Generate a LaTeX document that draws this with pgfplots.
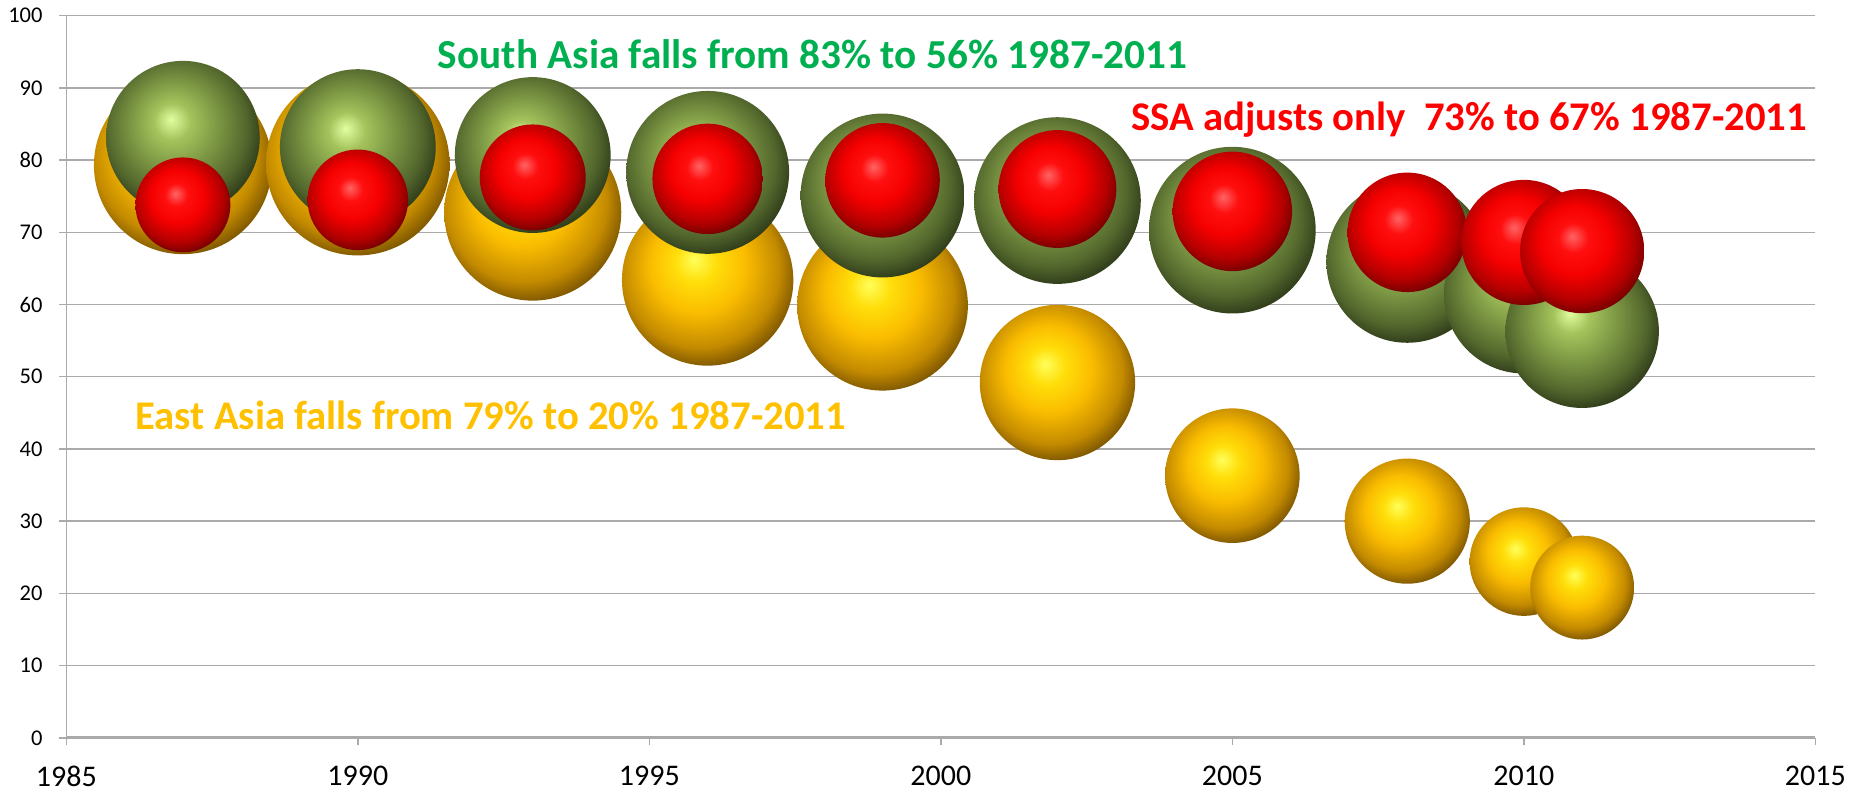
\documentclass[border=0pt]{standalone}
\usepackage{pgfplots}
\pgfplotsset{compat=1.18}
\usepackage{pgfplotstable}
\usepackage{fontspec}
\setmainfont{Carlito}

\definecolor{gridgray}{RGB}{170,170,170}
\definecolor{txtgreen}{RGB}{0,176,80}
\definecolor{txtyellow}{RGB}{255,192,0}
\definecolor{txtred}{RGB}{255,0,0}

% yellow (East Asia)
\definecolor{yA}{RGB}{255,255,90}
\definecolor{yB}{RGB}{255,222,10}
\definecolor{yC}{RGB}{250,188,0}
\definecolor{yD}{RGB}{195,138,0}
\definecolor{yE}{RGB}{100,68,0}
% green (South Asia)
\definecolor{gA}{RGB}{225,255,160}
\definecolor{gB}{RGB}{165,195,92}
\definecolor{gC}{RGB}{125,152,68}
\definecolor{gD}{RGB}{82,102,44}
\definecolor{gE}{RGB}{35,45,20}
% red (SSA)
\definecolor{rA}{RGB}{255,100,100}
\definecolor{rB}{RGB}{255,15,15}
\definecolor{rC}{RGB}{245,0,0}
\definecolor{rD}{RGB}{180,0,0}
\definecolor{rE}{RGB}{95,0,0}

\pgfdeclareradialshading{ballyellow}{\pgfqpoint{-4bp}{6bp}}{color(0bp)=(yA); color(6bp)=(yB); color(14bp)=(yC); color(23bp)=(yD); color(30bp)=(yE); color(50bp)=(yE)}
\pgfdeclareradialshading{ballgreen}{\pgfqpoint{-4bp}{6bp}}{color(0bp)=(gA); color(6bp)=(gB); color(14bp)=(gC); color(23bp)=(gD); color(30bp)=(gE); color(50bp)=(gE)}
\pgfdeclareradialshading{ballred}{\pgfqpoint{-4bp}{6bp}}{color(0bp)=(rA); color(6bp)=(rB); color(14bp)=(rC); color(23bp)=(rD); color(30bp)=(rE); color(50bp)=(rE)}

\newcommand\shadedball[1]{%
  \begin{pgfscope}%
    \pgfpathcircle{\pgfpointorigin}{\pgfplotmarksize}%
    \pgfusepath{clip}%
    \begin{pgfinterruptboundingbox}%
    \pgfmathsetmacro\ballscale{\pgfplotmarksize/25.09}%
    \pgftransformscale{\ballscale}%
    \pgflowlevelsynccm
    \pgfuseshading{#1}%
    \end{pgfinterruptboundingbox}%
  \end{pgfscope}%
}
\pgfdeclareplotmark{ballY}{\shadedball{ballyellow}}
\pgfdeclareplotmark{ballG}{\shadedball{ballgreen}}
\pgfdeclareplotmark{ballR}{\shadedball{ballred}}

% year, share in poverty (%), bubble radius (px at 1568 wide)
\pgfplotstableread{
year y r
1987 79.3 75.4
1990 79.5 77.7
1993 72.8 75.0
1996 63.4 72.6
1999 59.9 72.3
2002 49.2 65.8
2005 36.3 57.0
2008 30.0 53.0
2010 24.4 46.0
2011 20.8 44.0
}\eastasia
\pgfplotstableread{
year y r
1987 83.1 65.1
1990 81.8 66.0
1993 80.7 66.0
1996 78.3 69.0
1999 75.1 69.4
2002 74.4 70.6
2005 70.3 70.6
2008 65.9 68.5
2010 61.5 67.6
2011 56.3 65.0
}\southasia
\pgfplotstableread{
year y r
1987 73.8 40.2
1990 74.5 42.6
1993 77.6 44.9
1996 77.4 46.8
1999 77.2 48.5
2002 76.0 49.9
2005 72.9 50.6
2008 70.0 50.6
2010 68.6 53.0
2011 67.4 52.6
}\ssa

\begin{document}
\begin{tikzpicture}
\begin{axis}[
  width=700pt, height=289pt, scale only axis,
  xmin=1985, xmax=2015, ymin=0, ymax=100,
  xtick={1985,1990,...,2015}, ytick={0,10,...,100},
  /pgf/number format/1000 sep={},
  /pgf/number format/assume math mode=true,
  ymajorgrids, grid style={gridgray, line width=0.6pt},
  axis x line*=bottom, axis y line*=left,
  x axis line style={gridgray, line width=1.1pt},
  y axis line style={gridgray, line width=0.6pt},
  tick style={gridgray, line width=0.6pt},
  tick align=outside, major tick length=3pt,
  xticklabel style={font=\fontsize{12}{14}\selectfont, text=black, inner sep=2.5pt, yshift=-5.5pt},
  yticklabel style={font=\fontsize{9}{11}\selectfont, text=black, xshift=-3pt},
  clip=false,
]
\addplot[only marks, scatter, mark=ballY,
  visualization depends on={0.4724*\thisrow{r} \as \rad},
  scatter/@pre marker code/.append style={/tikz/mark size=\rad}]
  table[x=year, y=y] {\eastasia};
\addplot[only marks, scatter, mark=ballG,
  visualization depends on={0.4724*\thisrow{r} \as \rad},
  scatter/@pre marker code/.append style={/tikz/mark size=\rad}]
  table[x=year, y=y] {\southasia};
\addplot[only marks, scatter, mark=ballR,
  visualization depends on={0.4724*\thisrow{r} \as \rad},
  scatter/@pre marker code/.append style={/tikz/mark size=\rad}]
  table[x=year, y=y] {\ssa};

\node[font=\bfseries\fontsize{16.5}{19}\selectfont, text=txtgreen] at (axis cs:1997.8,94.6) {South Asia falls from 83\% to 56\% 1987-2011};
\node[font=\bfseries\fontsize{16.3}{19}\selectfont, text=txtred] at (axis cs:2009.06,85.6) {SSA adjusts only~~73\% to 67\% 1987-2011};
\node[font=\bfseries\fontsize{16.3}{19}\selectfont, text=txtyellow] at (axis cs:1992.28,44.6) {East Asia falls from 79\% to 20\% 1987-2011};
\end{axis}
\end{tikzpicture}
\end{document}
